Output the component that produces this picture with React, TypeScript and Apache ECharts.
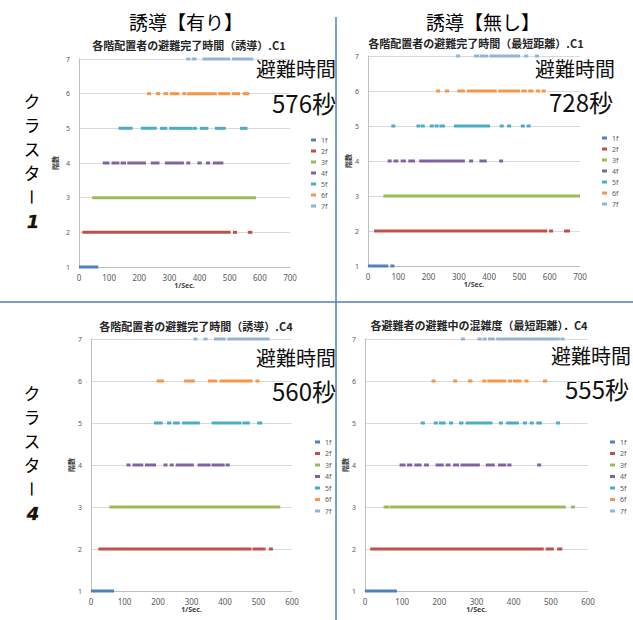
import React, { useEffect, useRef } from 'react';
import * as echarts from 'echarts';

const CJK = '"Noto Sans CJK JP", "Noto Sans", sans-serif';
const LATIN = '"Noto Sans", "DejaVu Sans", sans-serif';

const floors = ['1f', '2f', '3f', '4f', '5f', '6f', '7f'];
const floorLevels = [1, 2, 3, 4, 5, 6, 7];
const floorColors = ['#4F81BD', '#C0504D', '#9BBB59', '#8064A2', '#4BACC6', '#F79646', '#95B3D7'];

const headerLabels = ['誘導【有り】', '誘導【無し】'];
const clusterChars = ['ク', 'ラ', 'ス', 'タ', 'ー'];
const clusterNumbers = ['1', '4'];

const chartTitles = [
  '各階配置者の避難完了時間（誘導）.C1',
  '各階配置者の避難完了時間（最短距離）.C1',
  '各階配置者の避難完了時間（誘導）.C4',
  '各避難者の避難中の混雑度（最短距離）．C4',
];
const annotationLabel = '避難時間';
const evacTimes = ['576秒', '728秒', '560秒', '555秒'];
const xMaxes = [700, 700, 600, 600];
const xInterval = 100;
const xAxisName = '1/Sec.';
const yAxisName = '階数';

// Runs of evacuation-completion points per floor: [first second, last second]
const runsC1: number[][][] = [
  [[0, 64]],
  [[11, 503], [512, 523], [560, 575]],
  [[44, 587]],
  [[79, 101], [108, 134], [138, 156], [160, 222], [238, 267], [285, 348], [357, 368], [393, 407], [421, 435], [444, 479]],
  [[131, 178], [205, 258], [269, 293], [299, 377], [379, 390], [401, 429], [451, 487], [534, 559]],
  [[227, 238], [258, 266], [280, 296], [302, 333], [344, 355], [359, 457], [462, 501], [507, 534], [543, 565]],
  [[357, 368], [374, 390], [410, 501], [507, 578]],
];
const runsC1Short: number[][][] = [
  [[0, 67], [75, 86]],
  [[20, 592], [599, 610], [647, 667]],
  [[51, 700]],
  [[65, 78], [84, 100], [108, 125], [133, 155], [169, 320], [335, 346], [368, 392], [434, 445]],
  [[78, 89], [161, 172], [176, 186], [205, 216], [221, 232], [236, 254], [284, 403], [436, 447], [461, 471], [507, 515], [526, 535]],
  [[225, 238], [254, 268], [295, 320], [326, 425], [430, 502], [507, 524], [529, 546], [557, 566], [576, 584]],
  [[293, 302], [350, 368], [370, 397], [401, 502], [518, 527], [554, 562]],
];
const runsC4: number[][][] = [
  [[0, 69]],
  [[22, 479], [482, 521], [531, 543]],
  [[55, 565]],
  [[106, 118], [124, 156], [161, 194], [218, 227], [235, 247], [253, 307], [318, 357], [360, 399], [402, 414]],
  [[188, 214], [227, 240], [245, 265], [272, 325], [360, 449], [452, 474], [496, 511]],
  [[196, 218], [278, 310], [349, 376], [384, 482], [492, 502]],
  [[307, 317], [337, 347], [367, 402], [407, 533]],
];
const runsC4Short: number[][][] = [
  [[0, 86]],
  [[14, 481], [486, 508], [517, 531]],
  [[50, 65], [66, 540], [555, 564]],
  [[93, 109], [113, 127], [133, 152], [159, 172], [190, 212], [217, 230], [237, 253], [257, 309], [325, 349], [358, 380], [383, 394], [464, 473]],
  [[150, 161], [185, 196], [199, 217], [226, 237], [253, 265], [271, 343], [361, 370], [380, 414], [425, 436], [443, 454], [461, 476], [515, 524]],
  [[179, 190], [237, 248], [277, 289], [316, 326], [329, 380], [385, 396], [398, 421], [430, 439], [479, 490]],
  [[259, 268], [304, 313], [318, 326], [331, 349], [353, 524], [528, 535]],
];
const panelRuns = [runsC1, runsC1Short, runsC4, runsC4Short];

// Layout (pixels)
const gridBoxes = [
  { left: 79, top: 59, width: 211, height: 208 },
  { left: 368, top: 56, width: 212, height: 210 },
  { left: 91, top: 339, width: 201, height: 252 },
  { left: 365, top: 339, width: 223, height: 252 },
];
const titlePos = [[189, 45], [476, 43], [196, 326], [479, 325]];
const legendPos = [[311, 136, 3], [602, 134, 3], [315, 438, 3.5], [610, 438, 3.5]];
const annPos = [
  [336, 68, 336, 102],
  [615, 68, 613, 101],
  [336, 357, 336, 390],
  [631, 355, 629, 388],
];
const yNameGaps = [21, 16, 16, 17];
const clusterY = [
  [101, 125, 149, 173, 197, 221],
  [393, 417, 441, 465, 489, 513],
];

export default function App() {
  const ref = useRef<HTMLDivElement>(null);
  useEffect(() => {
    if (!ref.current) return;
    const chart = echarts.init(ref.current, undefined, { renderer: 'svg' });

    const series: any[] = [];
    panelRuns.forEach((runs, i) => {
      runs.forEach((floorRuns, f) => {
        const color = floorColors[f];
        series.push({
          type: 'custom',
          name: floors[f],
          coordinateSystem: 'cartesian2d',
          xAxisIndex: i,
          yAxisIndex: i,
          clip: false,
          itemStyle: { color },
          encode: { x: [0, 1], y: 2 },
          data: floorRuns.map((r) => [r[0], r[1], floorLevels[f]]),
          renderItem: (_p: any, api: any) => {
            const a = api.coord([api.value(0), api.value(2)]);
            const b = api.coord([api.value(1), api.value(2)]);
            let x1 = a[0];
            let x2 = b[0];
            if (x2 - x1 < 4) {
              const c = (x1 + x2) / 2;
              x1 = c - 2;
              x2 = c + 2;
            }
            return {
              type: 'rect',
              shape: { x: x1, y: a[1] - 1.5, width: x2 - x1, height: 3 },
              style: { fill: color },
            };
          },
        });
      });
    });

    const graphics: any[] = [];
    const txt = (x: number, y: number, text: string, style: any, extra: any = {}) => ({
      type: 'text',
      x,
      y,
      ...extra,
      style: {
        text,
        align: 'center',
        verticalAlign: 'middle',
        textAlign: 'center',
        textVerticalAlign: 'middle',
        fontFamily: CJK,
        fill: '#000',
        ...style,
      },
    });
    graphics.push(txt(186, 21, headerLabels[0], { fontSize: 19 }));
    graphics.push(txt(483, 21, headerLabels[1], { fontSize: 19 }));
    graphics.push({ type: 'line', shape: { x1: 336, y1: 17, x2: 336, y2: 620 }, style: { stroke: '#4F81BD', lineWidth: 1.5 } });
    graphics.push({ type: 'line', shape: { x1: 0, y1: 302, x2: 633, y2: 302 }, style: { stroke: '#4F81BD', lineWidth: 1.5 } });

    clusterY.forEach((ys, k) => {
      clusterChars.forEach((ch, j) => {
        const extra = ch === 'ー' ? { rotation: -Math.PI / 2 } : {};
        graphics.push(txt(32, ys[j], ch, { fontSize: 16.5, lineHeight: 17 }, extra));
      });
      graphics.push(
        txt(33, ys[5], clusterNumbers[k], {
          fontSize: 18,
          lineHeight: 18,
          fontWeight: 'bold',
          fontStyle: 'italic',
          fontFamily: '"DejaVu Sans", sans-serif',
          fill: '#111',
          stroke: '#b8862b',
          lineWidth: 0.6,
        })
      );
    });

    chartTitles.forEach((t, i) => {
      graphics.push(txt(titlePos[i][0], titlePos[i][1], t, { fontSize: 11, fontWeight: 'bold', fill: '#262626' }));
      const [ax, ay, bx, by] = annPos[i];
      graphics.push(txt(ax, ay, annotationLabel, { fontSize: 20, lineHeight: 22, align: 'right', textAlign: 'right', fill: '#111' }));
      graphics.push(txt(bx, by, evacTimes[i], { fontSize: 24, lineHeight: 26, align: 'right', textAlign: 'right', fill: '#111' }));
    });

    const option: any = {
      animation: false,
      backgroundColor: '#ffffff',
      grid: gridBoxes.map((g) => ({ ...g, containLabel: false, outerBoundsMode: 'none' })),
      xAxis: gridBoxes.map((_g, i) => ({
        gridIndex: i,
        type: 'value',
        min: 0,
        max: xMaxes[i],
        interval: xInterval,
        axisLine: { show: true, lineStyle: { color: '#bfbfbf', width: 1 } },
        axisTick: { show: false },
        splitLine: { show: false },
        axisLabel: { fontSize: 8, color: '#595959', margin: 6, fontFamily: LATIN },
        name: xAxisName,
        nameLocation: 'middle',
        nameGap: 15,
        nameTextStyle: { fontSize: 7, fontWeight: 'bold', color: '#404040', fontFamily: LATIN },
      })),
      yAxis: gridBoxes.map((_g, i) => ({
        gridIndex: i,
        type: 'value',
        min: 1,
        max: 7,
        interval: 1,
        axisLine: { show: true, lineStyle: { color: '#bfbfbf', width: 1 } },
        axisTick: { show: false },
        splitLine: { show: true, lineStyle: { color: '#d9d9d9', width: 1 } },
        axisLabel: { fontSize: 7, color: '#595959', margin: 9, fontFamily: LATIN },
        name: yAxisName,
        nameLocation: 'middle',
        nameGap: yNameGaps[i],
        nameTextStyle: { fontSize: 7, fontWeight: 'bold', color: '#404040', fontFamily: CJK },
      })),
      legend: legendPos.map(([x, y, gap]) => ({
        data: floors,
        orient: 'vertical',
        left: x,
        top: y,
        padding: 0,
        icon: 'rect',
        itemWidth: 5,
        itemHeight: 3,
        itemGap: gap,
        selectedMode: false,
        textStyle: { fontSize: 7, color: '#595959', lineHeight: 8, fontFamily: LATIN },
      })),
      graphic: { elements: graphics },
      series,
    };
    chart.setOption(option);
    return () => chart.dispose();
  }, []);

  return (
    <div
      ref={ref}
      style={{ position: 'absolute', left: 0, top: 0, width: 633, height: 620, background: '#fff' }}
    />
  );
}
